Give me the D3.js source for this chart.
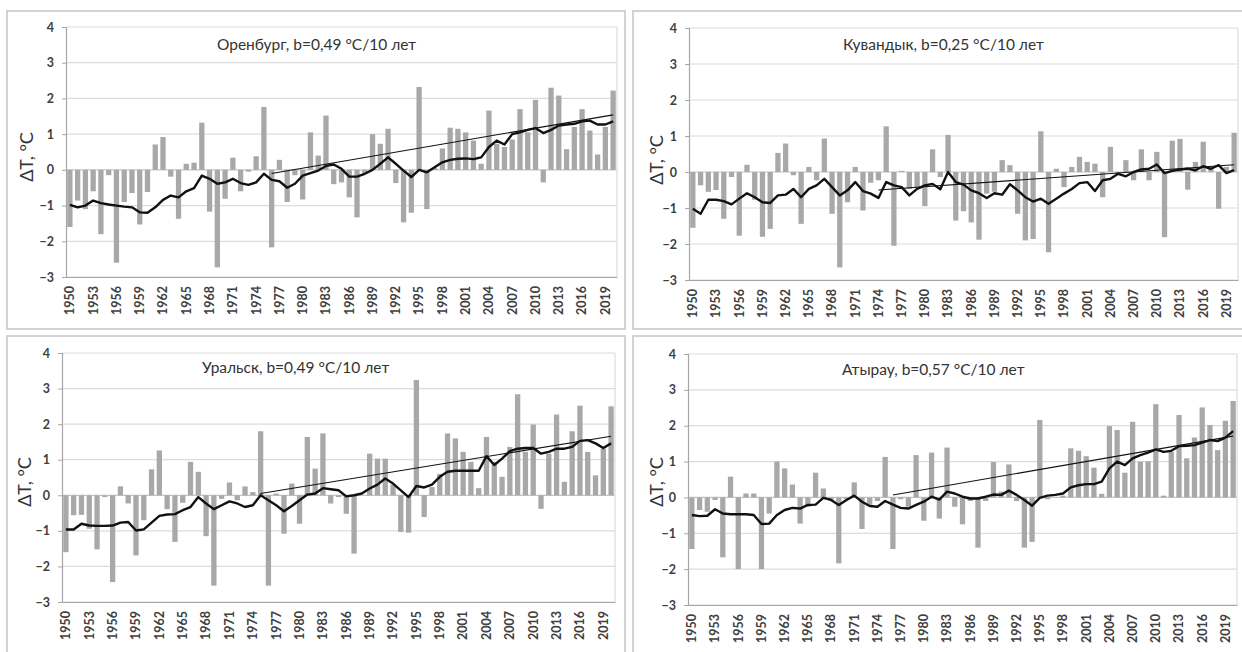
<!DOCTYPE html>
<html>
<head>
<meta charset="utf-8">
<script src="https://cdn.jsdelivr.net/npm/d3@7"></script>
<style>
  html, body { margin: 0; padding: 0; background: #fff; }
  svg { display: block; }
  text { font-family: Lato, "Open Sans", sans-serif; }
</style>
</head>
<body>
<svg id="chart" width="1242" height="652"></svg>
<script>
// Annual temperature anomalies (°C), 1950–2020, four stations
const years = d3.range(1950, 2021);
const tickYears = [1950, 1953, 1956, 1959, 1962, 1965, 1968, 1971, 1974, 1977, 1980, 1983,
  1986, 1989, 1992, 1995, 1998, 2001, 2004, 2007, 2010, 2013, 2016, 2019];
const yTicks = [-3, -2, -1, 0, 1, 2, 3, 4];

const stationNames = ["Оренбург", "Кувандык", "Уральск", "Атырау"];
const trendRates = ["0,49", "0,25", "0,49", "0,57"];

const orenburgAnom = [
  -1.6, -0.86, -1.1, -0.6, -1.8, -0.15, -2.6, -0.9, -0.65, -1.53,
  -0.62, 0.71, 0.92, -0.19, -1.37, 0.17, 0.2, 1.32, -1.17, -2.73,
  -0.81, 0.34, -0.6, -0.05, 0.38, 1.76, -2.17, 0.28, -0.9, -0.15,
  -0.83, 1.05, 0.4, 1.52, -0.4, -0.35, -0.77, -1.33, -0.1, 1.0,
  0.73, 1.15, -0.37, -1.47, -1.2, 2.32, -1.1, 0.05, 0.6, 1.18,
  1.15, 1.05, 0.82, 0.17, 1.66, 0.73, 0.64, 0.85, 1.7, 1.05,
  1.96, -0.35, 2.3, 2.08, 0.58, 1.2, 1.7, 1.1, 0.43, 1.2, 2.22
];
const kuvandykAnom = [
  -1.55, -0.37, -0.55, -0.5, -1.3, -0.14, -1.77, 0.2, -0.77, -1.8,
  -1.58, 0.53, 0.79, -0.09, -1.44, 0.14, -0.23, 0.93, -1.16, -2.65,
  -0.84, 0.14, -1.07, -0.3, -0.23, 1.27, -2.05, 0.03, -0.47, -0.42,
  -0.95, 0.63, -0.14, 1.03, -1.35, -1.09, -1.4, -1.88, -0.6, -0.55,
  0.33, 0.19, -1.16, -1.9, -1.86, 1.13, -2.23, 0.09, -0.42, 0.14,
  0.42, 0.28, 0.23, -0.7, 0.7, -0.05, 0.33, -0.23, 0.63, -0.23,
  0.56, -1.81, 0.87, 0.92, -0.49, 0.28, 0.84, 0.1, -1.02, 0.14, 1.09
];
const uralskAnom = [
  -1.6, -0.56, -0.55, -0.94, -1.52, -0.05, -2.44, 0.25, -0.23, -1.69,
  -0.7, 0.73, 1.26, -0.39, -1.31, -0.21, 0.94, 0.66, -1.15, -2.54,
  -0.1, 0.36, -0.14, 0.25, 0.09, 1.8, -2.54, 0.05, -1.08, 0.33,
  -0.8, 1.64, 0.75, 1.74, -0.23, -0.05, -0.52, -1.64, 0.0, 1.17,
  1.03, 1.03, 0.3, -1.03, -1.05, 3.24, -0.61, 0.23, 0.6, 1.74,
  1.6, 1.22, 0.94, 0.2, 1.64, 0.94, 0.52, 1.36, 2.84, 1.22,
  1.99, -0.38, 1.17, 2.27, 0.38, 1.8, 2.52, 1.22, 0.56, 1.31, 2.5
];
const atyrauAnom = [
  -1.44, -0.35, -0.4, -0.07, -1.67, 0.58, -2.0, 0.11, 0.11, -2.0,
  -0.45, 1.0, 0.81, 0.36, -0.73, -0.26, 0.69, 0.25, -0.1, -1.84,
  -0.05, 0.42, -0.88, -0.21, -0.1, 1.13, -1.44, -0.05, -0.26, 1.18,
  -0.65, 1.25, -0.59, 1.39, -0.26, -0.75, -0.1, -1.4, -0.1, 0.99,
  0.16, 0.92, -0.1, -1.4, -1.24, 2.16, -0.05, 0.0, 0.05, 1.37,
  1.3, 1.15, 0.83, 0.1, 1.99, 1.88, 0.69, 2.11, 1.0, 1.01,
  2.6, 0.05, 1.27, 2.3, 1.09, 1.67, 2.51, 2.02, 1.32, 2.14, 2.69
];

// Smoothed anomaly curves
const orenburgSmooth = [
  -0.98, -1.05, -1.0, -0.86, -0.93, -0.97, -1.0, -1.03, -1.05, -1.19,
  -1.2, -1.05, -0.84, -0.72, -0.77, -0.6, -0.51, -0.16, -0.25, -0.39,
  -0.35, -0.25, -0.37, -0.42, -0.35, -0.11, -0.28, -0.32, -0.5, -0.39,
  -0.16, -0.09, -0.02, 0.11, 0.15, 0.03, -0.19, -0.19, -0.11, 0.0,
  0.17, 0.35, 0.17, -0.02, -0.2, 0.0, -0.07, 0.07, 0.21, 0.28,
  0.31, 0.32, 0.3, 0.35, 0.64, 0.82, 0.71, 1.0, 1.05, 1.12,
  1.17, 1.03, 1.12, 1.24, 1.27, 1.29, 1.36, 1.38, 1.27, 1.27, 1.36
];
const kuvandykSmooth = [
  -1.02, -1.16, -0.77, -0.77, -0.81, -0.9, -0.74, -0.59, -0.7, -0.84,
  -0.86, -0.65, -0.63, -0.47, -0.7, -0.47, -0.37, -0.19, -0.42, -0.65,
  -0.51, -0.28, -0.53, -0.6, -0.72, -0.28, -0.37, -0.42, -0.65, -0.47,
  -0.37, -0.33, -0.48, 0.0, -0.28, -0.35, -0.51, -0.59, -0.72, -0.59,
  -0.63, -0.34, -0.51, -0.7, -0.82, -0.74, -0.88, -0.74, -0.6, -0.47,
  -0.31, -0.28, -0.53, -0.23, -0.19, -0.05, -0.12, 0.0, 0.07, 0.09,
  0.21, -0.03, 0.03, 0.07, 0.09, 0.05, 0.16, 0.09, 0.19, -0.03, 0.05
];
const uralskSmooth = [
  -0.96, -0.96, -0.8, -0.85, -0.86, -0.86, -0.85, -0.77, -0.75, -0.99,
  -0.96, -0.77, -0.58, -0.54, -0.53, -0.42, -0.33, -0.05, -0.23, -0.39,
  -0.28, -0.17, -0.23, -0.33, -0.28, 0.0, -0.14, -0.28, -0.45, -0.3,
  -0.14, 0.02, 0.05, 0.2, 0.17, 0.14, -0.03, 0.0, 0.05, 0.19,
  0.3, 0.47, 0.33, 0.14, -0.05, 0.26, 0.22, 0.3, 0.52, 0.66,
  0.69, 0.69, 0.69, 0.69, 1.1, 0.85, 1.03, 1.24, 1.31, 1.33,
  1.33, 1.17, 1.22, 1.31, 1.31, 1.36, 1.53, 1.55, 1.46, 1.33, 1.46
];
const atyrauSmooth = [
  -0.49, -0.52, -0.51, -0.33, -0.45, -0.47, -0.47, -0.47, -0.49, -0.74,
  -0.73, -0.49, -0.35, -0.29, -0.31, -0.21, -0.2, -0.01, -0.07, -0.21,
  -0.07, 0.05, -0.12, -0.24, -0.26, -0.1, -0.2, -0.29, -0.31, -0.21,
  -0.12, 0.02, -0.06, 0.16, 0.11, 0.02, -0.03, -0.03, 0.02, 0.08,
  0.07, 0.19, 0.07, -0.07, -0.23, -0.01, 0.05, 0.07, 0.11, 0.28,
  0.34, 0.37, 0.37, 0.44, 0.81, 1.0, 0.9, 1.09, 1.18, 1.25,
  1.34, 1.27, 1.3, 1.43, 1.44, 1.46, 1.53, 1.6, 1.57, 1.67, 1.85
];

// Linear trend segments: [start year, end year] and [start value, end value]
const orenburgTrend = { years: [1976, 2020], values: [-0.1, 1.54] };
const kuvandykTrend = { years: [1974, 2020], values: [-0.5, 0.2] };
const uralskTrend   = { years: [1975, 2020], values: [0.05, 1.66] };
const atyrauTrend   = { years: [1976, 2020], values: [0.07, 1.71] };

const anomalies = [orenburgAnom, kuvandykAnom, uralskAnom, atyrauAnom];
const smooths = [orenburgSmooth, kuvandykSmooth, uralskSmooth, atyrauSmooth];
const trends = [orenburgTrend, kuvandykTrend, uralskTrend, atyrauTrend];

// Panel geometry
const layout = [
  { frame: [7, 11, 618, 318],  x0: 66,  x1: 617,  yTop: 27,  yBot: 277, tx: 217, ty: 50,  ax: 27,  ay: 157 },
  { frame: [633, 11, 620, 318], x0: 689, x1: 1238, yTop: 28,  yBot: 280, tx: 843, ty: 50,  ax: 657, ay: 160 },
  { frame: [7, 336, 618, 330], x0: 62,  x1: 615,  yTop: 353, yBot: 602, tx: 202, ty: 373, ax: 25,  ay: 482 },
  { frame: [633, 336, 620, 330], x0: 688, x1: 1237, yTop: 354, yBot: 605, tx: 842, ty: 375, ax: 657, ay: 482 }
];

const svg = d3.select("#chart");

layout.forEach((p, k) => {
  const g = svg.append("g");
  const bars = anomalies[k], smooth = smooths[k], trend = trends[k];

  g.append("rect")
    .attr("x", p.frame[0]).attr("y", p.frame[1])
    .attr("width", p.frame[2]).attr("height", p.frame[3])
    .attr("fill", "#fff").attr("stroke", "#c8c8c8").attr("stroke-width", 1.6);

  const x = d3.scaleBand().domain(years).range([p.x0, p.x1]).paddingInner(0.32).paddingOuter(0.16);
  const y = d3.scaleLinear().domain([-3, 4]).range([p.yBot, p.yTop]);
  const cx = yr => x(yr) + x.bandwidth() / 2;

  // gridlines
  g.append("g").selectAll("line").data(yTicks).join("line")
    .attr("x1", p.x0).attr("x2", p.x1)
    .attr("y1", d => y(d)).attr("y2", d => y(d))
    .attr("stroke", d => d === 0 ? "#c4c4c4" : "#dcdcdc").attr("stroke-width", 1.2);
  g.append("line").attr("x1", p.x1).attr("x2", p.x1).attr("y1", p.yTop).attr("y2", p.yBot)
    .attr("stroke", "#dcdcdc").attr("stroke-width", 1.2);

  // bars
  g.append("g").selectAll("rect").data(years).join("rect")
    .attr("x", d => x(d))
    .attr("width", x.bandwidth())
    .attr("y", (d, i) => y(Math.max(0, bars[i])))
    .attr("height", (d, i) => Math.abs(y(bars[i]) - y(0)))
    .attr("fill", "#a8a8a8");

  // y axis
  const yAxis = d3.axisLeft(y).tickValues(yTicks).tickSize(4).tickPadding(8).tickFormat(d3.format("d"));
  const ya = g.append("g").attr("transform", `translate(${p.x0},0)`).call(yAxis);
  ya.select(".domain").attr("stroke", "#a6a6a6").attr("stroke-width", 1.2);
  ya.selectAll(".tick line").attr("stroke", "#a6a6a6");
  ya.selectAll(".tick text").attr("fill", "#404040").style("font-size", "12.5px").style("font-weight", "700")
    .style("font-family", "Lato, sans-serif");

  // x axis at the bottom with rotated year labels
  const xAxis = d3.axisBottom(x).tickValues(tickYears).tickSize(0).tickPadding(0);
  const xa = g.append("g").attr("transform", `translate(0,${p.yBot})`).call(xAxis);
  xa.select(".domain").attr("stroke", "#a6a6a6").attr("stroke-width", 1.2);
  xa.selectAll(".tick text")
    .attr("transform", "rotate(-90)")
    .attr("x", -9).attr("y", 0).attr("dy", "0.35em")
    .attr("text-anchor", "end")
    .attr("fill", "#404040").style("font-size", "12.5px").style("font-weight", "700")
    .style("font-family", "Lato, sans-serif");

  // smoothed curve
  const line = d3.line().x((d, i) => cx(years[i])).y(d => y(d));
  g.append("path").datum(smooth).attr("d", line)
    .attr("fill", "none").attr("stroke", "#111").attr("stroke-width", 2.4).attr("stroke-linejoin", "round");

  // linear trend
  g.append("line")
    .attr("x1", cx(trend.years[0])).attr("y1", y(trend.values[0]))
    .attr("x2", cx(trend.years[1])).attr("y2", y(trend.values[1]))
    .attr("stroke", "#111").attr("stroke-width", 1.1);

  // station title
  g.append("text").attr("x", p.tx).attr("y", p.ty)
    .attr("fill", "#333").style("font-size", "15.5px")
    .text(`${stationNames[k]}, b=${trendRates[k]} °C/10 лет`);

  // axis title
  g.append("text")
    .attr("transform", `translate(${p.ax},${p.ay}) rotate(-90)`)
    .attr("text-anchor", "middle").attr("dy", "0.35em")
    .attr("fill", "#333").style("font-size", "18px")
    .text("ΔT, °C");
});
</script>
</body>
</html>
